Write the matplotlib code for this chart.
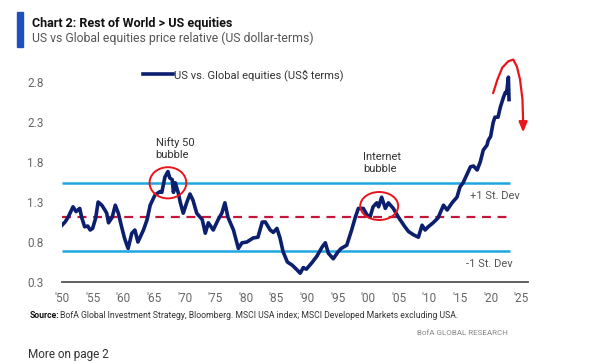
import matplotlib
matplotlib.use("Agg")
import matplotlib.pyplot as plt
from matplotlib.patches import Ellipse
from matplotlib import font_manager

# ---------------- data ----------------
years = [1950.0, 1950.5, 1951.0, 1951.8, 1952.3, 1952.9, 1953.2, 1953.7, 1954.2, 1954.6,
         1955.0, 1955.5, 1955.9, 1956.5, 1957.0, 1957.3, 1957.6, 1958.2, 1958.7, 1959.2,
         1959.8, 1960.2, 1960.6, 1960.8, 1961.4, 1961.9, 1962.4, 1963.3, 1963.9, 1964.4,
         1965.2, 1966.0, 1966.3, 1966.8, 1967.3, 1967.6, 1968.0, 1968.2, 1968.5, 1969.0,
         1969.3, 1969.8, 1970.4, 1970.9, 1971.4, 1972.0, 1972.9, 1973.4, 1973.9, 1974.7,
         1975.5, 1976.1, 1976.6, 1977.1, 1978.0, 1978.8, 1979.4, 1980.2, 1981.2, 1982.0,
         1982.7, 1983.2, 1984.0, 1984.5, 1985.1, 1985.6, 1986.1, 1986.8, 1987.6, 1988.4,
         1988.9, 1989.4, 1989.9, 1990.8, 1991.6, 1992.5, 1993.0, 1993.5, 1994.3, 1995.1,
         1995.6, 1996.5, 1997.3, 1997.9, 1998.4, 1999.2, 1999.8, 2000.3, 2000.8, 2001.4,
         2001.7, 2002.2, 2002.8, 2003.3, 2004.1, 2004.7, 2005.2, 2006.0, 2006.6, 2007.4,
         2008.2, 2008.8, 2009.3, 2009.8, 2010.6, 2011.4, 2012.3, 2012.9, 2013.7, 2014.5,
         2015.0, 2015.5, 2016.1, 2016.7, 2017.2, 2017.8, 2018.3, 2018.8, 2019.4, 2019.6,
         2020.0, 2020.4, 2020.7, 2021.2, 2021.6, 2022.1, 2022.4, 2022.6, 2022.9, 2023.0]
ratio = [1.01, 1.05, 1.11, 1.24, 1.18, 1.22, 1.11, 0.99, 1.00, 0.95,
         0.97, 1.10, 1.30, 1.26, 1.20, 1.16, 1.04, 1.11, 1.26, 1.16,
         0.97, 0.85, 0.76, 0.72, 0.91, 0.95, 0.80, 0.95, 1.08, 1.26,
         1.39, 1.43, 1.42, 1.61, 1.68, 1.60, 1.58, 1.42, 1.54, 1.41,
         1.30, 1.16, 1.30, 1.40, 1.32, 1.16, 1.08, 0.91, 1.04, 0.95,
         1.08, 1.16, 1.29, 1.11, 0.95, 0.72, 0.79, 0.80, 0.85, 0.86,
         1.05, 1.05, 0.95, 0.92, 0.97, 0.85, 0.68, 0.55, 0.51, 0.45,
         0.41, 0.48, 0.46, 0.54, 0.62, 0.74, 0.79, 0.66, 0.59, 0.68,
         0.72, 0.76, 0.95, 1.11, 1.22, 1.22, 1.14, 1.11, 1.24, 1.29,
         1.24, 1.36, 1.22, 1.29, 1.22, 1.14, 1.08, 0.99, 0.93, 0.89,
         0.86, 1.01, 0.95, 0.99, 1.04, 1.10, 1.26, 1.20, 1.29, 1.36,
         1.49, 1.54, 1.64, 1.74, 1.75, 1.70, 1.80, 1.95, 2.01, 2.07,
         2.12, 2.29, 2.36, 2.36, 2.49, 2.61, 2.67, 2.66, 2.86, 2.58]

mean_level = 1.11
plus_sd = 1.54
minus_sd = 0.69
band_end = 2023.2

ytick_vals = [0.3, 0.8, 1.3, 1.8, 2.3, 2.8]
xtick_years = [1950, 1955, 1960, 1965, 1970, 1975, 1980, 1985, 1990, 1995,
               2000, 2005, 2010, 2015, 2020, 2025]
xtick_labels = ["'50", "'55", "'60", "'65", "'70", "'75", "'80", "'85", "'90", "'95",
                "'00", "'05", "'10", "'15", "'20", "'25"]

# red "turning" arc drawn by the analyst
arc_x = [2020.4, 2021.1, 2021.9, 2022.9, 2023.7, 2024.3, 2024.8, 2025.2, 2025.3]
arc_y = [2.66, 2.83, 2.98, 3.06, 3.08, 2.99, 2.83, 2.58, 2.30]
arc_tip = (2025.3, 2.17)

# bubble circles: (center year, center value, width yrs, height)
nifty_circle = (1967.3, 1.54, 6.0, 0.39)
internet_circle = (2001.8, 1.25, 6.2, 0.35)

# ---------------- style ----------------
names = {f.name for f in font_manager.fontManager.ttflist}
narrow = "Liberation Sans Narrow" if "Liberation Sans Narrow" in names else "Roboto"
plt.rcParams['font.family'] = [narrow, 'DejaVu Sans']

NAVY = "#0b1f6e"
LBLUE = "#1ea7e0"
RED_D = "#c3173a"
RED = "#e8151b"
GRAY = "#555555"

W, H = 602, 362
fig = plt.figure(figsize=(W / 100, H / 100), dpi=100)

def fx(px):
    return px / W

def fy(py):
    return 1 - py / H

x0, x1 = 62, 528
y_bot, y_top = 282, 58
ax = fig.add_axes([fx(x0), fy(y_bot), (x1 - x0) / W, (y_bot - y_top) / H])
ax.set_xlim(1950, 2026.1)
ax.set_ylim(0.3, 3.1)

for s in ["top", "right", "left"]:
    ax.spines[s].set_visible(False)
ax.spines["bottom"].set_color("#555555")
ax.spines["bottom"].set_linewidth(1.3)

ax.set_yticks(ytick_vals)
ax.set_yticklabels([f"{v:.1f}" for v in ytick_vals])
ax.set_xticks(xtick_years)
ax.set_xticklabels(xtick_labels)
ax.tick_params(axis="both", length=0, labelsize=8.5, colors="#666666")
ax.tick_params(axis="y", pad=13)
ax.tick_params(axis="x", pad=7)

ax.hlines([plus_sd, minus_sd], 1950, band_end, color=LBLUE, lw=1.8, zorder=2)
ax.hlines([mean_level], 1950, band_end, color=RED_D, lw=1.6, linestyles=(0, (4, 3)), zorder=2)

ax.plot(years, ratio, color=NAVY, lw=2.6, zorder=3, solid_joinstyle="round",
        label="US vs. Global equities (US$ terms)")

for cx, cy, w, h in (nifty_circle, internet_circle):
    ax.add_patch(Ellipse((cx, cy), w, h, fill=False, ec=RED, lw=1.4, zorder=4))

ax.plot(arc_x, arc_y, color=RED, lw=1.6, zorder=4, clip_on=False, solid_capstyle="round")
ax.annotate("", xy=arc_tip, xytext=(arc_x[-1], arc_y[-1] + 0.02),
            arrowprops=dict(arrowstyle="-|>,head_length=0.6,head_width=0.25",
                            color=RED, lw=1.6, shrinkA=0, shrinkB=0),
            annotation_clip=False, zorder=4)

ax.text(1965.3, 2.11, "Nifty 50\nbubble", fontsize=8, color="#333333",
        va="top", ha="left", linespacing=1.25)
ax.text(1999.2, 1.92, "Internet\nbubble", fontsize=8, color="#333333",
        va="top", ha="left", linespacing=1.25)
ax.text(2016.7, plus_sd - 0.16, "+1 St. Dev", fontsize=8, color=GRAY, va="center", ha="left")
ax.text(2016.0, minus_sd - 0.16, "-1 St. Dev", fontsize=8, color=GRAY, va="center", ha="left")

leg = ax.legend(loc="center left", bbox_to_anchor=(fx(143), fy(75)),
                bbox_transform=fig.transFigure, frameon=False, fontsize=8,
                handlelength=2.7, handletextpad=0.1, borderpad=0, borderaxespad=0)
for t in leg.get_texts():
    t.set_color("#333333")

# header
fig.patches.append(plt.Rectangle((fx(17), fy(47)), fx(23) - fx(17), fy(12) - fy(47),
                                 transform=fig.transFigure, color="#1f4fbf", zorder=5))
fig.text(fx(32), fy(27), "Chart 2: Rest of World > US equities", fontsize=9,
         fontweight="bold", color="#111111", va="baseline", ha="left")
fig.text(fx(32), fy(42), "US vs Global equities price relative (US dollar-terms)",
         fontsize=8.8, color="#555555", va="baseline", ha="left")

# footer
fig.text(fx(30), fy(315), "Source:", fontsize=6.2, fontweight="bold", color="#111111",
         va="center", ha="left")
fig.text(fx(60), fy(315), "BofA Global Investment Strategy, Bloomberg. MSCI USA index; "
         "MSCI Developed Markets excluding USA.", fontsize=6.2, color="#333333",
         va="center", ha="left")
fig.text(fx(508), fy(333), "BofA GLOBAL RESEARCH", fontsize=5.8, color="#888888",
         va="center", ha="right")
fig.text(fx(28), fy(348), "More on page 2", fontsize=8.5, color="#333333",
         va="top", ha="left")

fig.savefig("out.png", dpi=100, facecolor="white")
